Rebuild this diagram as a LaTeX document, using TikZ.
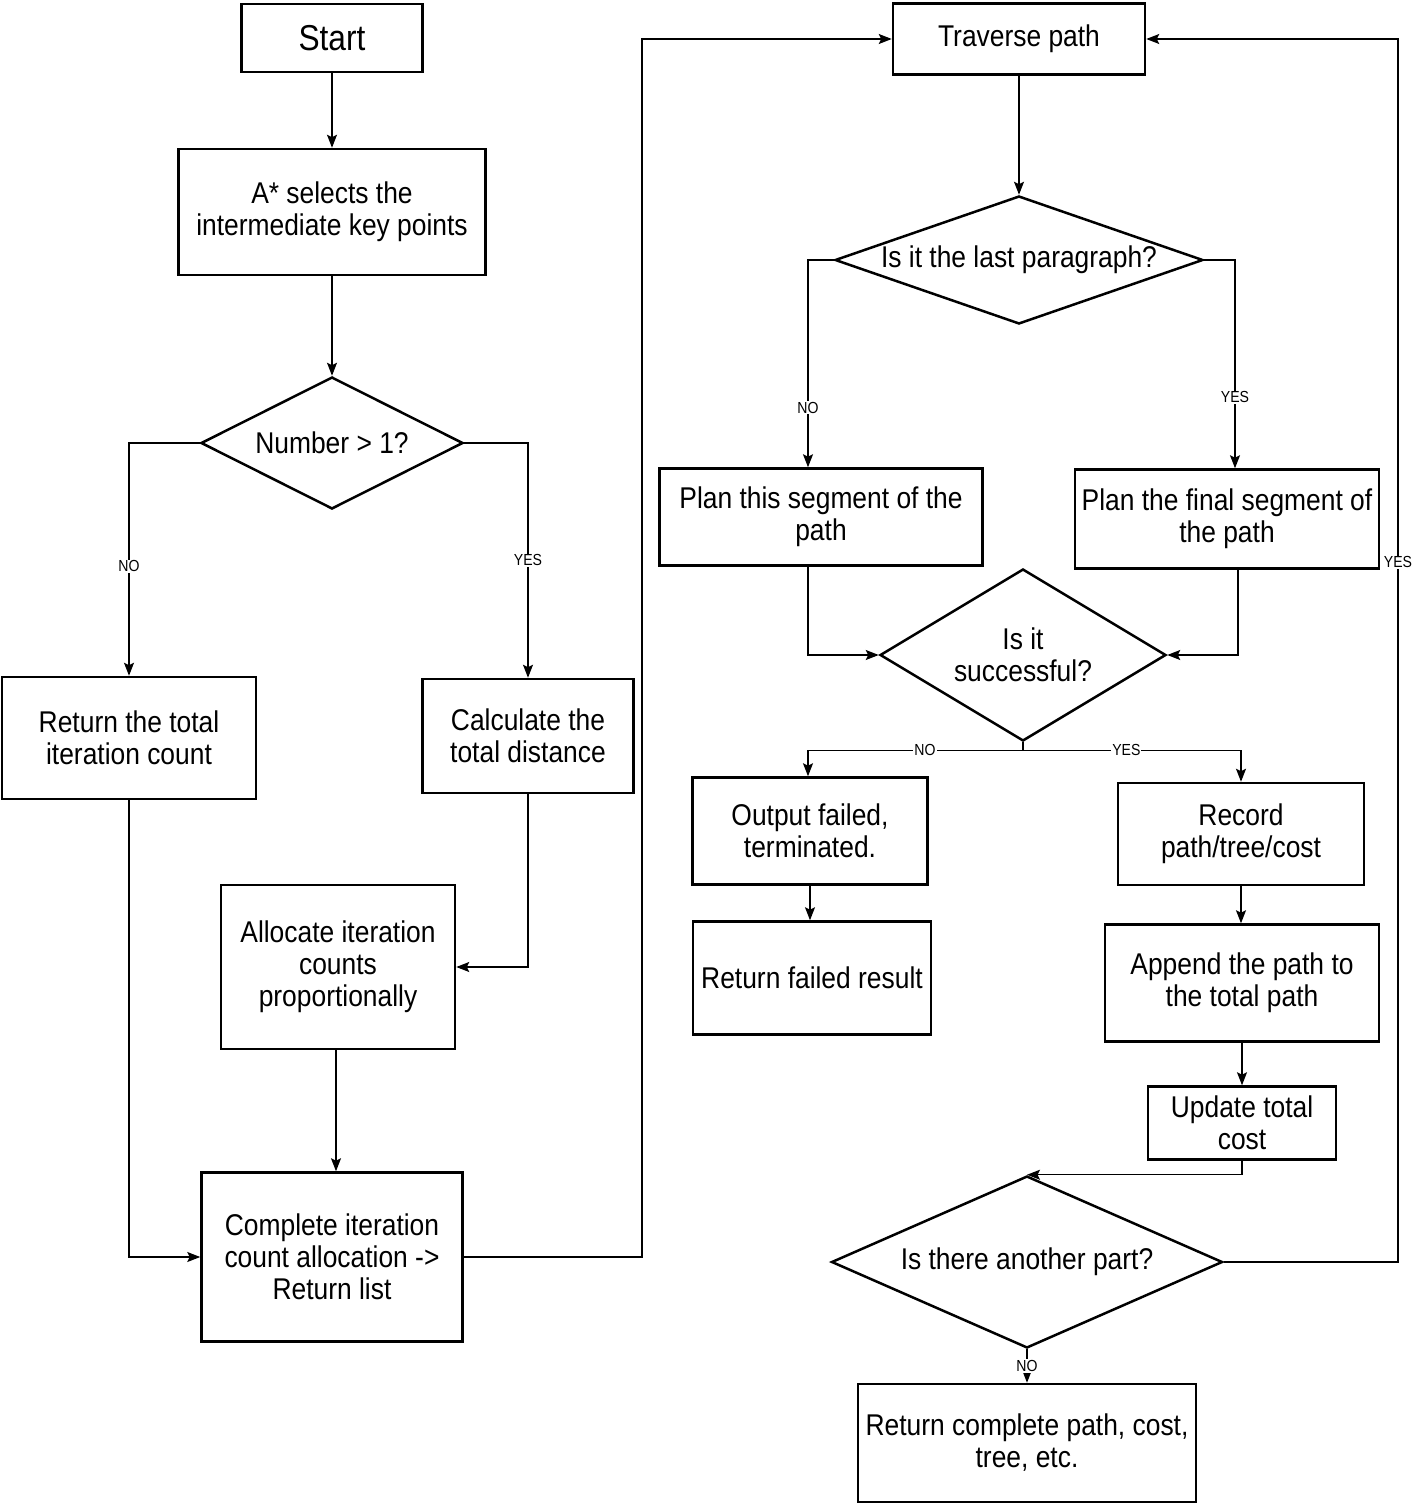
\documentclass[tikz,border=0pt]{standalone}
\usepackage{fontspec}
\setmainfont{Liberation Sans}[FakeStretch=0.88]
\usetikzlibrary{shapes.geometric,arrows.meta,calc}
\newcommand\mainfnt{\fontsize{30}{32}\selectfont}
\newcommand\bigfnt{\fontsize{36}{40}\selectfont}
\newcommand\lblfnt{\fontsize{16}{18}\selectfont}
\tikzset{
  sz/.style 2 args={minimum width=#1pt, minimum height=#2pt},
  box/.style={draw, line width=2.5pt, rectangle, inner sep=1pt, align=center, font=\mainfnt},
  dia/.style={draw, line width=2.5pt, diamond, inner sep=0pt},
  dtext/.style={font=\mainfnt, align=center},
  conn/.style={line width=1.4pt, -{Stealth[length=13pt,width=10pt,inset=2.5pt]}},
  lbl/.style={fill=white, inner sep=1pt, font=\lblfnt},
}
\begin{document}
\begin{tikzpicture}[x=1pt,y=-1pt]
\useasboundingbox (0,0) rectangle (1417,1504);
% left column
\node[box, sz={181}{68}, font=\bigfnt] (start) at (332,38) {Start};
\node[box, sz={307}{126}] (astar) at (332,212) {A* selects the\\intermediate key points};
\node[dia, sz={262}{132}, label={[dtext]center:Number > 1?}] (num) at (332,443) {};
\node[box, sz={254}{122}] (ret) at (129,738) {Return the total\\iteration count};
\node[box, sz={211}{114}] (calc) at (528,736) {Calculate the\\total distance};
\node[box, sz={234}{164}] (alloc) at (338,967) {Allocate iteration\\counts\\proportionally};
\node[box, sz={261}{169}] (comp) at (332,1257) {Complete iteration\\count allocation ->\\Return list};
% right column
\node[box, sz={252}{71}] (trav) at (1019,39) {Traverse path};
\node[dia, sz={368}{128}, label={[dtext]center:Is it the last paragraph?}] (lastp) at (1019,260) {};
\node[box, sz={323}{97}] (plan1) at (821,517) {Plan this segment of the\\path};
\node[box, sz={304}{99}] (plan2) at (1227,519) {Plan the final segment of\\the path};
\node[dia, sz={286}{172}, label={[dtext]center:Is it\\successful?}] (succ) at (1023,655) {};
\node[box, sz={235}{107}] (outf) at (810,831) {Output failed,\\terminated.};
\node[box, sz={238}{113}] (retf) at (812,978) {Return failed result};
\node[box, sz={246}{102}] (rec) at (1241,834) {Record\\path/tree/cost};
\node[box, sz={274}{117}] (app) at (1242,983) {Append the path to\\the total path};
\node[box, sz={188}{73}] (upd) at (1242,1123) {Update total\\cost};
\node[dia, sz={391}{172}, label={[dtext]center:Is there another part?}] (another) at (1027,1262) {};
\node[box, sz={338}{118}] (retc) at (1027,1443) {Return complete path, cost,\\tree, etc.};
\coordinate (bendL) at (642,1257);
\coordinate (bendR) at (1398,1262);
% connectors left
\draw[conn] (start) -- (astar);
\draw[conn] (astar.south) -- (num.north);
\draw[conn] (num.west) -| node[lbl,pos=0.765]{NO} (ret.north);
\draw[conn] (num.east) -| node[lbl,pos=0.75]{YES} (calc.north);
\draw[conn] (calc.south) |- (alloc.east);
\draw[conn] ([xshift=-2pt]alloc.south) -- ([xshift=4pt]comp.north);
\draw[conn] (ret.south) |- (comp.west);
\draw[conn] (comp.east) -- (bendL) |- (trav.west);
% connectors right
\draw[conn] (trav.south) -- (lastp.north);
\draw[conn] (lastp.west) -| node[lbl,pos=0.856]{NO} ([xshift=-13pt]plan1.north);
\draw[conn] (lastp.east) -| node[lbl,pos=0.83]{YES} ([xshift=8pt]plan2.north);
\draw[conn] ([xshift=-13pt]plan1.south) |- (succ.west);
\draw[conn] ([xshift=11pt]plan2.south) |- (succ.east);
\draw[conn] (succ.south) -- ++(0,8) -| node[lbl,pos=0.228]{NO} ([xshift=-2pt]outf.north);
\draw[conn] (succ.south) -- ++(0,8) -| node[lbl,pos=0.237]{YES} (rec.north);
\draw[conn] (outf.south) -- (outf.south |- retf.north);
\draw[conn] (rec.south) -- (rec.south |- app.north);
\draw[conn] (app.south) -- (upd.north);
\draw[conn] (upd.south) |- (another.north);
\draw[conn] (another.east) -- (bendR) |- node[lbl,pos=0.286]{YES} (trav.east);
\draw[conn] (another.south) -- node[lbl]{NO} (retc.north);
\end{tikzpicture}
\end{document}
